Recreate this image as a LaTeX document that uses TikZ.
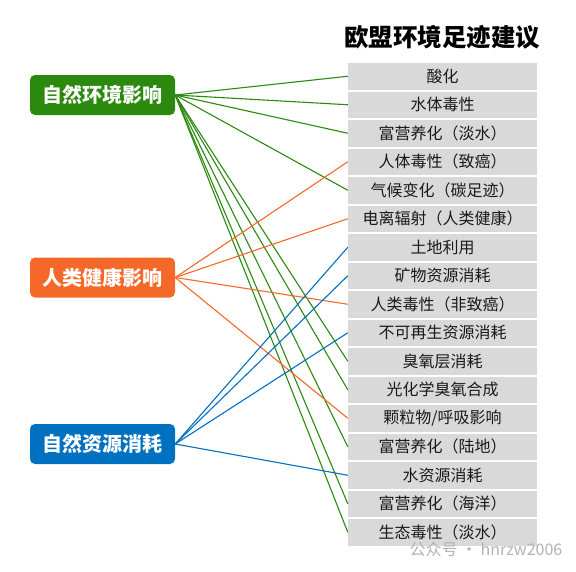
\documentclass[tikz,border=0pt]{standalone}
\usepackage{fontspec}
\setmainfont{Noto Sans CJK SC}
\usetikzlibrary{positioning}
\definecolor{envgreen}{HTML}{2B8A0E}
\definecolor{humorange}{HTML}{F4692A}
\definecolor{resblue}{HTML}{0070C0}
\definecolor{rowgray}{HTML}{D9D9D9}

\begin{document}
\begin{tikzpicture}[x=1pt,y=-1pt,
  src/.style={rounded corners=5pt, minimum width=145pt, minimum height=40pt, inner sep=0pt, text=white, font=\bfseries\fontsize{20}{20}\selectfont},
  cat/.style={fill=rowgray, minimum width=189pt, minimum height=26.5pt, inner sep=0pt, text=black!90, font=\fontsize{16}{16}\selectfont},
  link/.style={line width=1.1pt}]
  \useasboundingbox (0,0) rectangle (576,571);
  \node[font=\bfseries\fontsize{24.5}{24.5}\selectfont] (title) at (442,37) {欧盟环境足迹建议};
  % right column of footprint categories
  \foreach \lbl [count=\i] in {酸化, 水体毒性, 富营养化（淡水）, 人体毒性（致癌）, 气候变化（碳足迹）, 电离辐射（人类健康）, 土地利用, 矿物资源消耗, 人类毒性（非致癌）, 不可再生资源消耗, 臭氧层消耗, 光化学臭氧合成, 颗粒物/呼吸影响, 富营养化（陆地）, 水资源消耗, 富营养化（海洋）, 生态毒性（淡水）} {
    \node[cat] (r\i) at (442.5,{76.25+28.5*(\i-1)}) {\lbl};
  }
  % impact groups
  \node[src, fill=envgreen] (env) at (102.5,95) {自然环境影响};
  \node[src, fill=humorange] (hum) at (102.5,277.5) {人类健康影响};
  \node[src, fill=resblue] (res) at (102.5,444) {自然资源消耗};
  \foreach \j in {1,2,3,5,11,12,14,16,17}
    \draw[link, envgreen] (env.east) -- (r\j.west);
  \foreach \j in {4,6,9,13}
    \draw[link, humorange] (hum.east) -- (r\j.west);
  \foreach \j in {7,8,10,15}
    \draw[link, resblue] (res.east) -- (r\j.west);
  \node[anchor=west, text=black!30, font=\fontsize{16}{16}\selectfont] (mark) at (406,549) {公众号 · hnrzw2006};
\end{tikzpicture}
\end{document}
